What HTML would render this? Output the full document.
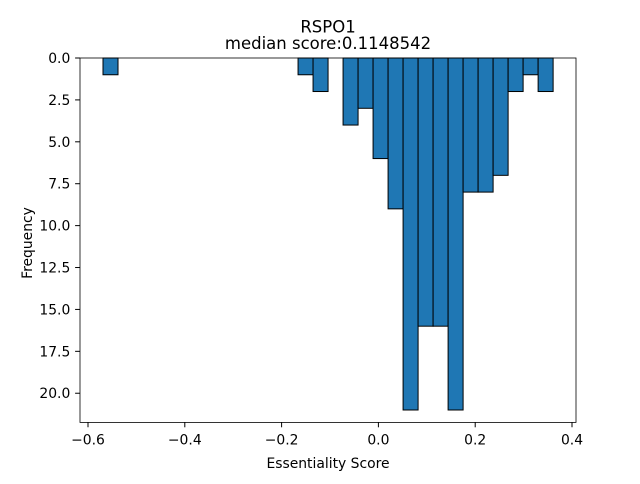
<!DOCTYPE html>
<html><head><meta charset="utf-8"><style>
body{margin:0;background:#fff;font-family:"DejaVu Sans","Liberation Sans",sans-serif}
</style></head><body>
<svg id="chart" width="640" height="480" xmlns="http://www.w3.org/2000/svg" font-family="DejaVu Sans, Liberation Sans, sans-serif">
<rect width="640" height="480" fill="#fff"/>
<text x="328" y="32.5" font-size="16.5" text-anchor="middle">RSPO1</text>
<text x="328" y="49" font-size="16.5" text-anchor="middle">median score:0.1148542</text>
<g id="bars"></g>
<g id="axes"></g>
<text x="328" y="468" font-size="13.9" text-anchor="middle">Essentiality Score</text>
<text x="0" y="0" font-size="13.9" text-anchor="middle" transform="translate(32,243) rotate(-90)">Frequency</text>
</svg>
<script>
const binStart = -0.569;
const binWidth = 0.031;
const counts = [1,0,0,0,0,0,0,0,0,0,0,0,0,1,2,0,4,3,6,9,21,16,16,21,8,8,7,2,1,2];
const xTicks = [-0.6,-0.4,-0.2,0.0,0.2,0.4];
const xTickLabels = ["\u22120.6","\u22120.4","\u22120.2","0.0","0.2","0.4"];
const yTicks = [0,2.5,5,7.5,10,12.5,15,17.5,20];
const yTickLabels = ["0.0","2.5","5.0","7.5","10.0","12.5","15.0","17.5","20.0"];
const L=80,R=576,T=58,B=422.4;
const xMin=-0.6-8/484, xMax=xMin+(R-L)/484;
const yMax=21.74;
const sx=v=>L+(v-xMin)/(xMax-xMin)*(R-L);
const sy=v=>T+v/yMax*(B-T);
const NS="http://www.w3.org/2000/svg";
const bars=document.getElementById('bars'), axes=document.getElementById('axes');
counts.forEach((c,i)=>{
  if(c<=0)return;
  const r=document.createElementNS(NS,'rect');
  const x0=sx(binStart+i*binWidth), x1=sx(binStart+(i+1)*binWidth);
  r.setAttribute('x',x0);r.setAttribute('y',sy(0));
  r.setAttribute('width',x1-x0);r.setAttribute('height',sy(c)-sy(0));
  r.setAttribute('fill','#1f77b4');r.setAttribute('stroke','#000');r.setAttribute('stroke-width','1');
  
  
  bars.appendChild(r);
});
const frame=document.createElementNS(NS,'rect');
frame.setAttribute('x',L);frame.setAttribute('y',T);frame.setAttribute('width',R-L);frame.setAttribute('height',B-T);
frame.setAttribute('fill','none');frame.setAttribute('stroke','#000');frame.setAttribute('stroke-width','0.8');


axes.appendChild(frame);
xTicks.forEach((v,i)=>{
  const x=sx(v);
  const l=document.createElementNS(NS,'line');
  l.setAttribute('x1',x);l.setAttribute('x2',x);l.setAttribute('y1',B);l.setAttribute('y2',B+4.9);l.setAttribute('stroke','#000');
  
  
  axes.appendChild(l);
  const t=document.createElementNS(NS,'text');
  t.setAttribute('x',x);t.setAttribute('y',B+22);t.setAttribute('font-size','13.9');t.setAttribute('text-anchor','middle');
  t.textContent=xTickLabels[i];
  
  
  axes.appendChild(t);
});
yTicks.forEach((v,i)=>{
  const y=sy(v);
  const l=document.createElementNS(NS,'line');
  l.setAttribute('x1',L-4.9);l.setAttribute('x2',L);l.setAttribute('y1',y);l.setAttribute('y2',y);l.setAttribute('stroke','#000');
  
  
  axes.appendChild(l);
  const t=document.createElementNS(NS,'text');
  t.setAttribute('x',L-9.7);t.setAttribute('y',y+5);t.setAttribute('font-size','13.9');t.setAttribute('text-anchor','end');
  t.textContent=yTickLabels[i];
  
  
  axes.appendChild(t);
});
</script>
</body></html>
